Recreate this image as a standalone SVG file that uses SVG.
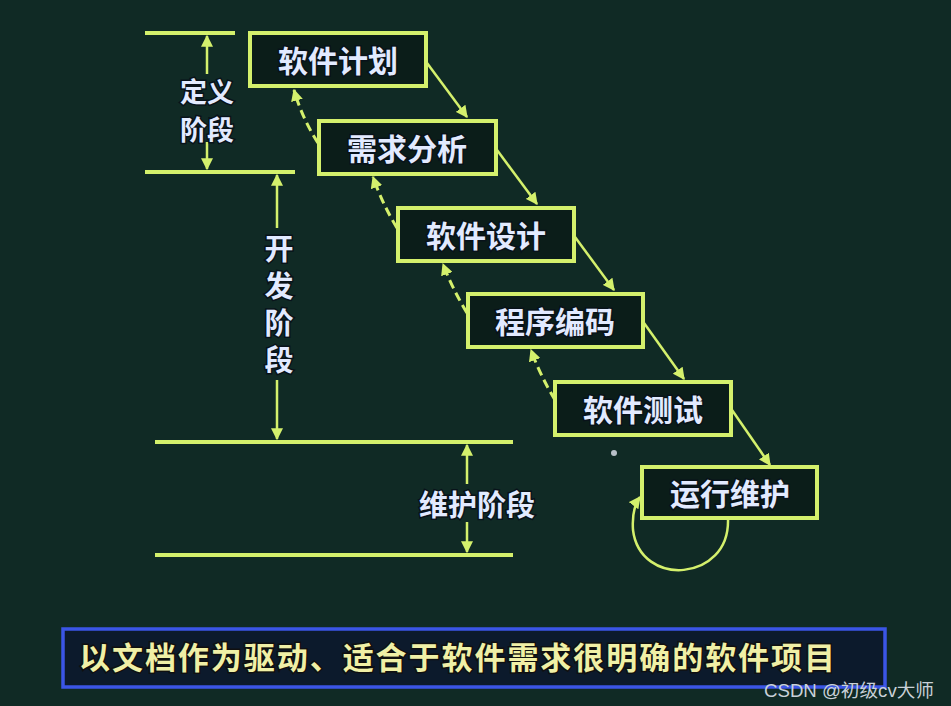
<svg xmlns="http://www.w3.org/2000/svg" width="951" height="706" viewBox="0 0 951 706">
<defs>
<style>
.bg{fill:#102a25}
.line{stroke:#d4f06c;stroke-width:4;fill:none}
.vline{stroke:#d4f06c;stroke-width:2.5;fill:none}
.box{fill:#0b1d19;stroke:#d4f06c;stroke-width:4}
.conn{stroke:#d4f06c;stroke-width:2.5;fill:none}
.dash{stroke:#d4f06c;stroke-width:3;fill:none;stroke-dasharray:9 5}
.t{font-family:"Noto Sans CJK SC","Noto Sans",sans-serif;font-weight:bold;fill:#e2eaff;stroke:#08121a;stroke-width:3;paint-order:stroke;text-anchor:middle;dominant-baseline:central}
.lbl{font-size:29px}
.bt{font-size:30px}
.banner{fill:#0c1a2c;stroke:#3b55e6;stroke-width:3.5}
.btext{font-family:"Noto Sans CJK SC","Noto Sans",sans-serif;font-weight:bold;font-size:31px;fill:#f0f0a6;stroke:#101010;stroke-width:3;paint-order:stroke}
.wm{font-family:"Liberation Sans","Noto Sans CJK SC",sans-serif;font-size:18px;fill:#c9d1d8}
</style>
<marker id="ah" viewBox="0 0 10 10" refX="9" refY="5" markerWidth="12" markerHeight="12" markerUnits="userSpaceOnUse" orient="auto">
<path d="M0,0 L10,5 L0,10 z" fill="#d4f06c"/>
</marker>
</defs>
<rect class="bg" x="0" y="0" width="951" height="706"/>

<g id="phase-lines">
<line class="line" x1="145" y1="33" x2="235" y2="33"/>
<line class="line" x1="145" y1="172" x2="295" y2="172"/>
<line class="line" x1="155" y1="442" x2="513" y2="442"/>
<line class="line" x1="155" y1="555" x2="513" y2="555"/>
</g>

<g id="phase-define">
<line class="vline" x1="207" y1="74" x2="207" y2="36" marker-end="url(#ah)"/>
<line class="vline" x1="207" y1="142" x2="207" y2="169" marker-end="url(#ah)"/>
<text class="t" x="207" y="90" font-size="27">定义</text>
<text class="t" x="207" y="128" font-size="27">阶段</text>
</g>

<g id="phase-develop">
<line class="vline" x1="277" y1="228" x2="277" y2="175" marker-end="url(#ah)"/>
<line class="vline" x1="277" y1="380" x2="277" y2="439" marker-end="url(#ah)"/>
<text class="t lbl" x="279" y="308" style="writing-mode:vertical-rl;letter-spacing:8px">开发阶段</text>
</g>

<g id="phase-maintain">
<line class="vline" x1="467" y1="484" x2="467" y2="445" marker-end="url(#ah)"/>
<line class="vline" x1="467" y1="522" x2="467" y2="552" marker-end="url(#ah)"/>
<text class="t lbl" x="477" y="503">维护阶段</text>
</g>

<g id="connectors">
<line class="conn" x1="427" y1="63" x2="467" y2="117" marker-end="url(#ah)"/>
<line class="conn" x1="497" y1="150" x2="537" y2="204" marker-end="url(#ah)"/>
<line class="conn" x1="575" y1="237" x2="614" y2="290" marker-end="url(#ah)"/>
<line class="conn" x1="644" y1="323" x2="684" y2="379" marker-end="url(#ah)"/>
<line class="conn" x1="732" y1="410" x2="770" y2="465" marker-end="url(#ah)"/>
<path class="dash" d="M318,143 Q302,118 294,90" marker-end="url(#ah)"/>
<path class="dash" d="M397,228 Q382,203 373,177" marker-end="url(#ah)"/>
<path class="dash" d="M467,313 Q452,288 443,264" marker-end="url(#ah)"/>
<path class="dash" d="M555,400 Q540,375 531,350" marker-end="url(#ah)"/>
<path class="conn" d="M728,519 C730,582 640,588 633,530 C632,515 634,505 640,497" marker-end="url(#ah)"/>
</g>

<g id="node-plan">
<rect class="box" x="250" y="33" width="176" height="53"/>
<text class="t bt" x="338" y="59">软件计划</text>
</g>
<g id="node-requirements">
<rect class="box" x="319" y="121" width="177" height="53"/>
<text class="t bt" x="407" y="147">需求分析</text>
</g>
<g id="node-design">
<rect class="box" x="398" y="208" width="176" height="53"/>
<text class="t bt" x="486" y="234">软件设计</text>
</g>
<g id="node-coding">
<rect class="box" x="468" y="294" width="175" height="53"/>
<text class="t bt" x="555" y="320">程序编码</text>
</g>
<g id="node-testing">
<rect class="box" x="555" y="382" width="176" height="53"/>
<text class="t bt" x="643" y="408">软件测试</text>
</g>
<g id="node-maintenance">
<rect class="box" x="642" y="467" width="175" height="51"/>
<text class="t bt" x="730" y="492">运行维护</text>
</g>

<circle cx="614" cy="453" r="3" fill="#b8c0c8"/>

<g id="banner">
<rect class="banner" x="63" y="629" width="822" height="58"/>
<text class="btext" x="79" y="669" textLength="756" lengthAdjust="spacing">以文档作为驱动、适合于软件需求很明确的软件项目</text>
</g>

<text class="wm" x="764" y="697" textLength="170" lengthAdjust="spacingAndGlyphs">CSDN @初级cv大师</text>
</svg>
